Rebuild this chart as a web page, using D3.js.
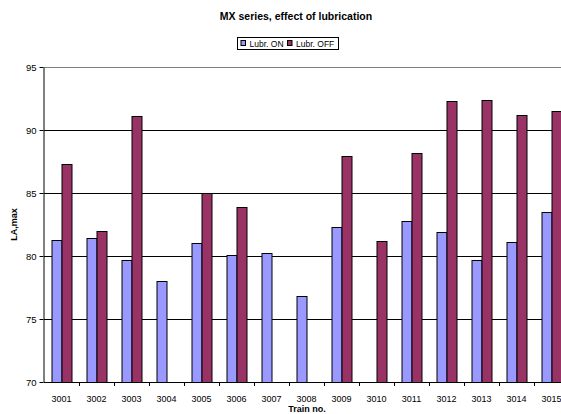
<!DOCTYPE html>
<html>
<head>
<meta charset="utf-8">
<script src="https://cdn.jsdelivr.net/npm/d3@7"></script>
<style>
  body { margin: 0; background: #fff; }
  svg { font-family: "Liberation Sans", Arial, sans-serif; display: block; }
</style>
</head>
<body>
<div id="container"></div>
<script>
// data
const trains = ["3001","3002","3003","3004","3005","3006","3007","3008","3009","3010","3011","3012","3013","3014","3015"];
const lubrOn  = [81.3, 81.4, 79.7, 78.0, 81.0, 80.1, 80.2, 76.8, 82.3, null, 82.8, 81.9, 79.7, 81.1, 83.5];
const lubrOff = [87.3, 82.0, 91.1, null, 85.0, 83.9, null, null, 87.9, 81.2, 88.2, 92.3, 92.4, 91.2, 91.5];
const seriesNames = ["Lubr. ON", "Lubr. OFF"];
const seriesColors = ["#9999ff", "#993366"];
const yTicks = [70, 75, 80, 85, 90, 95];

// layout
const width = 561, height = 414;
const plotLeft = 44, plotTop = 67, plotBottom = 382;
const step = 35;

const svg = d3.select("#container").append("svg")
  .attr("width", width).attr("height", height);

const x0 = d3.scaleBand()
  .domain(trains)
  .range([plotLeft, plotLeft + step * trains.length])
  .paddingInner(0).paddingOuter(0);

// bars take 2/3.5 of the band (gap width 150%)
const x1 = d3.scaleBand()
  .domain(seriesNames)
  .range([step * 0.75 / 3.5, step - step * 0.75 / 3.5]);

const y = d3.scaleLinear().domain([70, 95]).range([plotBottom, plotTop]);

// gridlines
svg.append("g").selectAll("line")
  .data(yTicks.filter(d => d > 70))
  .enter().append("line")
  .attr("x1", plotLeft).attr("x2", width)
  .attr("y1", d => Math.round(y(d)) + 0.5).attr("y2", d => Math.round(y(d)) + 0.5)
  .attr("stroke", d => d === 95 ? "#808080" : "#000")
  .attr("stroke-width", 1);

// bars
const table = trains.map((t, i) => ({ train: t, values: [lubrOn[i], lubrOff[i]] }));
const groups = svg.append("g").selectAll("g")
  .data(table)
  .enter().append("g")
  .attr("transform", d => `translate(${x0(d.train)},0)`);

groups.selectAll("rect")
  .data(d => d.values.map((v, k) => ({ name: seriesNames[k], value: v, k: k })).filter(d => d.value != null))
  .enter().append("rect")
  .attr("x", d => x1(d.name) + 0.5)
  .attr("width", x1.bandwidth())
  .attr("y", d => Math.round(y(d.value)) + 0.5)
  .attr("height", d => Math.round(plotBottom - y(d.value)))
  .attr("fill", d => seriesColors[d.k])
  .attr("stroke", "#000")
  .attr("stroke-width", 1);

// y axis
const yAxis = d3.axisLeft(y).tickValues(yTicks).tickSize(4).tickSizeOuter(0);
const gy = svg.append("g")
  .attr("transform", `translate(${plotLeft - 0.5},0)`)
  .call(yAxis);
gy.select(".domain").attr("stroke", "#000");
gy.selectAll(".tick line").attr("stroke", "#000");
gy.selectAll("text").attr("font-size", 9.5).attr("fill", "#000")
  .attr("font-family", "Liberation Sans, Arial, sans-serif").attr("x", -7);

// x axis
const gx = svg.append("g")
  .attr("transform", `translate(0,${plotBottom + 0.5})`)
  .call(d3.axisBottom(x0).tickSize(0).tickSizeOuter(0));
gx.select(".domain").attr("stroke", "#000").attr("d", `M${plotLeft},0H${width}`);
gx.selectAll("text").attr("font-size", 9).attr("fill", "#000").attr("dy", 0)
  .attr("y", 19).attr("font-family", "Liberation Sans, Arial, sans-serif");
// tick marks between categories
svg.append("g").selectAll("line")
  .data(trains.slice(1))
  .enter().append("line")
  .attr("x1", d => Math.round(x0(d)) + 0.5).attr("x2", d => Math.round(x0(d)) + 0.5)
  .attr("y1", plotBottom).attr("y2", plotBottom + 4)
  .attr("stroke", "#000");

// titles
svg.append("text")
  .attr("x", 296).attr("y", 20)
  .attr("text-anchor", "middle")
  .attr("font-size", 10.5).attr("font-weight", "bold")
  .text("MX series, effect of lubrication");

svg.append("text")
  .attr("x", 307).attr("y", 411.5)
  .attr("text-anchor", "middle")
  .attr("font-size", 9).attr("font-weight", "bold")
  .text("Train no.");

svg.append("text")
  .attr("transform", `translate(17,${(plotTop + plotBottom) / 2}) rotate(-90)`)
  .attr("text-anchor", "middle")
  .attr("font-size", 9).attr("font-weight", "bold")
  .text("LA,max");

// legend
const legend = svg.append("g").attr("transform", "translate(237.5,37.5)");
legend.append("rect")
  .attr("width", 101).attr("height", 12)
  .attr("fill", "#fff").attr("stroke", "#000");
const legendX = [3.5, 50];
seriesNames.forEach((name, k) => {
  legend.append("rect")
    .attr("x", legendX[k]).attr("y", 3)
    .attr("width", 4.5).attr("height", 5)
    .attr("fill", seriesColors[k]).attr("stroke", "#000");
  legend.append("text")
    .attr("x", legendX[k] + 8.5).attr("y", 9.5)
    .attr("font-size", 8.5)
    .text(name);
});
</script>
</body>
</html>
